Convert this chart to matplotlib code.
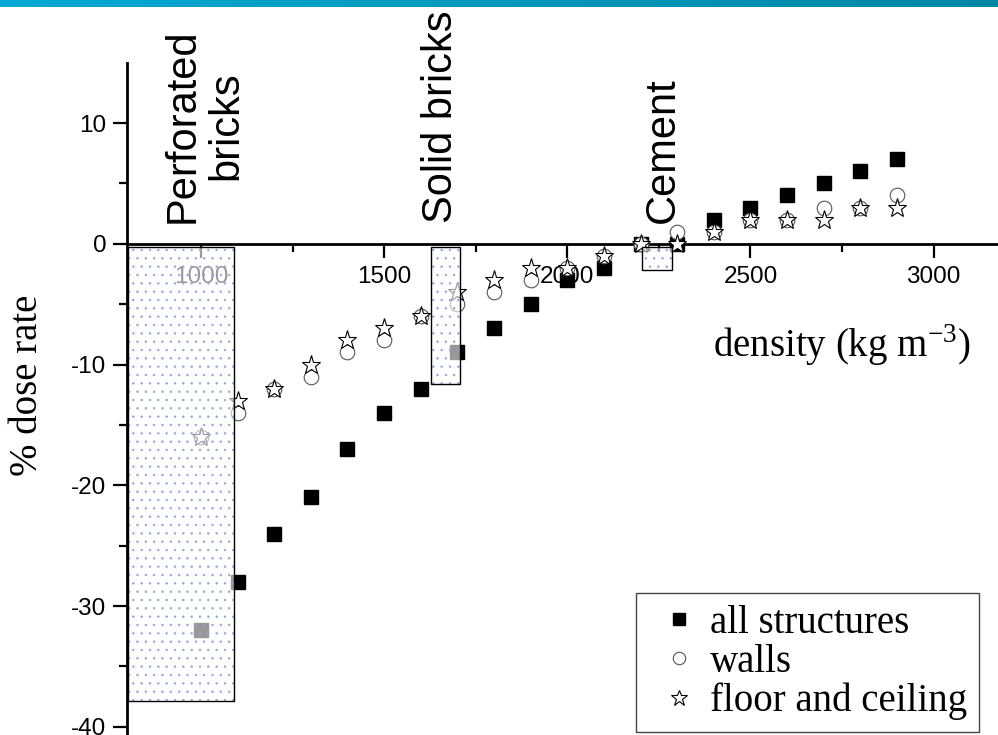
import numpy as np
import matplotlib
matplotlib.use("Agg")
import matplotlib.pyplot as plt
from matplotlib.patches import Rectangle
from matplotlib.ticker import MultipleLocator
from matplotlib.colors import LinearSegmentedColormap

# data
density = [1000, 1100, 1200, 1300, 1400, 1500, 1600, 1700, 1800, 1900,
           2000, 2100, 2200, 2300, 2400, 2500, 2600, 2700, 2800, 2900]
all_structures = [-32, -28, -24, -21, -17, -14, -12, -9, -7, -5,
                  -3, -2, 0, 0, 2, 3, 4, 5, 6, 7]
walls = [-16, -14, -12, -11, -9, -8, -6, -5, -4, -3,
         -2, -1, 0, 1, 1, 2, 2, 3, 3, 4]
floor_ceiling = [-16, -13, -12, -10, -8, -7, -6, -4, -3, -2,
                 -2, -1, 0, 0, 1, 2, 2, 2, 3, 3]

materials = ["Perforated\nbricks", "Solid bricks", "Cement"]
material_density_lo = [800, 1627, 2205]
material_density_hi = [1090, 1708, 2287]
material_dose_min = [-37.9, -11.6, -2.2]
material_label_x = [1010, 1654, 2260]

plt.rcParams['font.family'] = ['Liberation Sans', 'DejaVu Sans']
plt.rcParams['mathtext.fontset'] = 'custom'
plt.rcParams['mathtext.rm'] = 'Liberation Serif'
plt.rcParams['hatch.linewidth'] = 0.5
plt.rcParams['axes.unicode_minus'] = False
serif = ['Liberation Serif', 'DejaVu Serif']

W, H = 998, 735
fig = plt.figure(figsize=(W / 100, H / 100), dpi=100)

# gradient bar at the top
bar = fig.add_axes([0, 1 - 7 / H, 1, 7 / H])
cmap = LinearSegmentedColormap.from_list('bar', ['#00AAD4', '#0087A6'])
bar.imshow(np.linspace(0, 1, 256).reshape(1, -1), aspect='auto', cmap=cmap)
bar.axis('off')

ax = fig.add_axes([127 / W, 0, 1 - 127 / W, 1 - 63 / H])
ax.set_xlim(798, 3176)
ax.set_ylim(-40.68, 14.97)

ax.spines['top'].set_visible(False)
ax.spines['right'].set_visible(False)
ax.spines['bottom'].set_position(('data', 0))
for s in ['left', 'bottom']:
    ax.spines[s].set_linewidth(2.0)

ax.xaxis.set_major_locator(MultipleLocator(500))
ax.xaxis.set_minor_locator(MultipleLocator(250))
ax.yaxis.set_major_locator(MultipleLocator(10))
ax.yaxis.set_minor_locator(MultipleLocator(5))
ax.tick_params(which='major', direction='out', length=10, width=1.6, labelsize=17.5)
ax.tick_params(which='minor', direction='out', length=5.5, width=1.6)
ax.tick_params(axis='x', which='major', pad=6)
ax.tick_params(axis='y', which='major', pad=5)

ax.plot(density, all_structures, linestyle='none', marker='s', ms=9.5,
        mfc='black', mec='black', label='all structures', zorder=3)
ax.plot(density, walls, linestyle='none', marker='o', ms=10.5,
        mfc='white', mec='#555555', mew=0.8, label='walls', zorder=3.2)
ax.plot(density, floor_ceiling, linestyle='none', marker='*', ms=14,
        mfc='white', mec='black', mew=0.8, label='floor and ceiling', zorder=3.4)

for lo, hi, dmin, name, lx in zip(material_density_lo, material_density_hi,
                                  material_dose_min, materials, material_label_x):
    ax.add_patch(Rectangle((lo, -0.3), hi - lo, dmin + 0.3, facecolor=(1, 1, 1, 0.6),
                           edgecolor='#8FA8D2', hatch='..', lw=0, zorder=5))
    ax.add_patch(Rectangle((lo, -0.3), hi - lo, dmin + 0.3, fill=False,
                           edgecolor='black', lw=1.0, zorder=6))
    ax.text(lx, 1.7, name, rotation=90, ha='center', va='bottom',
            multialignment='center', fontsize=30, linespacing=1.1)

fig.text(28 / W, 1 - 385 / H, '% dose rate', rotation=90, ha='center', va='center',
         fontsize=28, family=serif)
fig.text(713 / W, 1 - 345 / H, 'density (kg m$^{-3}$)', ha='left', va='center',
         fontsize=28, family=serif)

leg = ax.legend(loc='upper left', bbox_to_anchor=(636 / W, 1 - 593 / H),
                bbox_transform=fig.transFigure, prop={'family': serif, 'size': 28},
                borderpad=0.3, handlelength=1.6, handletextpad=0.0,
                labelspacing=0.05, borderaxespad=0, fancybox=False,
                markerscale=0.85, framealpha=1)
leg.get_frame().set_edgecolor('#444444')
leg.get_frame().set_linewidth(1.0)
leg.set_zorder(10)

fig.savefig('out.png', dpi=100)
